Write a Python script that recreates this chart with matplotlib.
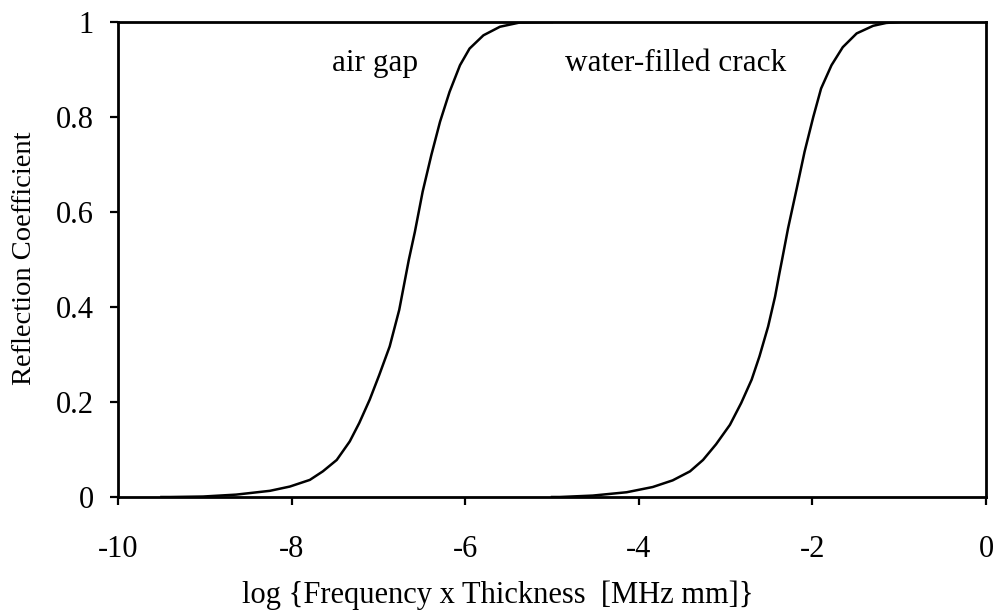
#!/usr/bin/env python3

import matplotlib
matplotlib.use("Agg")
import matplotlib.pyplot as plt

# air gap curve
air_x = [-9.50, -9.40, -9.02, -8.64, -8.25, -8.02, -7.79, -7.64, -7.48, -7.33,
         -7.22, -7.10, -6.99, -6.87, -6.76, -6.65, -6.58, -6.49, -6.39,
         -6.29, -6.18, -6.06, -5.95, -5.79, -5.60, -5.37, -5.06, -5.00]
air_y = [0.0, 0.0, 0.001, 0.005, 0.013, 0.022, 0.036, 0.054, 0.078, 0.117,
         0.156, 0.205, 0.257, 0.317, 0.394, 0.499, 0.558, 0.643, 0.720,
         0.790, 0.853, 0.909, 0.944, 0.972, 0.990, 0.999, 1.0, 1.0]

# water-filled crack curve
water_x = [-5.00, -4.91, -4.53, -4.14, -3.84, -3.61, -3.41, -3.26, -3.11, -2.95,
           -2.82, -2.70, -2.61, -2.51, -2.43, -2.38, -2.35, -2.28, -2.18, -2.09,
           -1.99, -1.90, -1.78, -1.65, -1.49, -1.30, -1.15, -1.00]
water_y = [0.0, 0.0, 0.003, 0.010, 0.021, 0.035, 0.054, 0.078, 0.111, 0.152,
           0.198, 0.247, 0.296, 0.359, 0.422, 0.471, 0.499, 0.566, 0.650, 0.727,
           0.800, 0.860, 0.909, 0.947, 0.976, 0.992, 0.998, 1.0]

x_ticks = [-10, -8, -6, -4, -2, 0]
y_ticks = [0, 0.2, 0.4, 0.6, 0.8, 1]
y_labels = ["0", "0.2", "0.4", "0.6", "0.8", "1"]

W, H = 998, 616


def main():
    plt.rcParams["font.family"] = ["Liberation Serif", "DejaVu Serif"]

    fig = plt.figure(figsize=(W / 100, H / 100), dpi=100)
    # plot area in pixels: x 118..986, y 22..497
    ax = fig.add_axes([118 / W, 1 - 497 / H, 868 / W, 475 / H])

    ax.plot(air_x, air_y, color="black", lw=1.8, solid_joinstyle="round")
    ax.plot(water_x, water_y, color="black", lw=1.8, solid_joinstyle="round")

    ax.set_xlim(-10, 0)
    ax.set_ylim(0, 1)
    ax.set_xticks(x_ticks)
    ax.set_xticklabels([str(t) for t in x_ticks])
    ax.set_yticks(y_ticks)
    ax.set_yticklabels(y_labels)

    for s in ax.spines.values():
        s.set_linewidth(2.0)
        s.set_color("black")
    ax.tick_params(direction="out", length=5.5, width=1.6, colors="black", labelsize=22)
    ax.tick_params(axis="x", pad=22)
    ax.tick_params(axis="y", pad=12)

    ax.text(-7.04, 0.896, "air gap", ha="center", va="baseline", fontsize=22.5)
    ax.text(-3.58, 0.896, "water-filled crack", ha="center", va="baseline", fontsize=22.5)

    fig.text(498 / W, 1 - 603 / H, "log {Frequency x Thickness  [MHz mm]}",
             ha="center", va="baseline", fontsize=22)
    fig.text(25 / W, 1 - 258 / H, "Reflection Coefficient",
             ha="center", va="center", rotation=90, fontsize=20.5)

    fig.savefig("out.png", dpi=100)


if __name__ == "__main__":
    main()
